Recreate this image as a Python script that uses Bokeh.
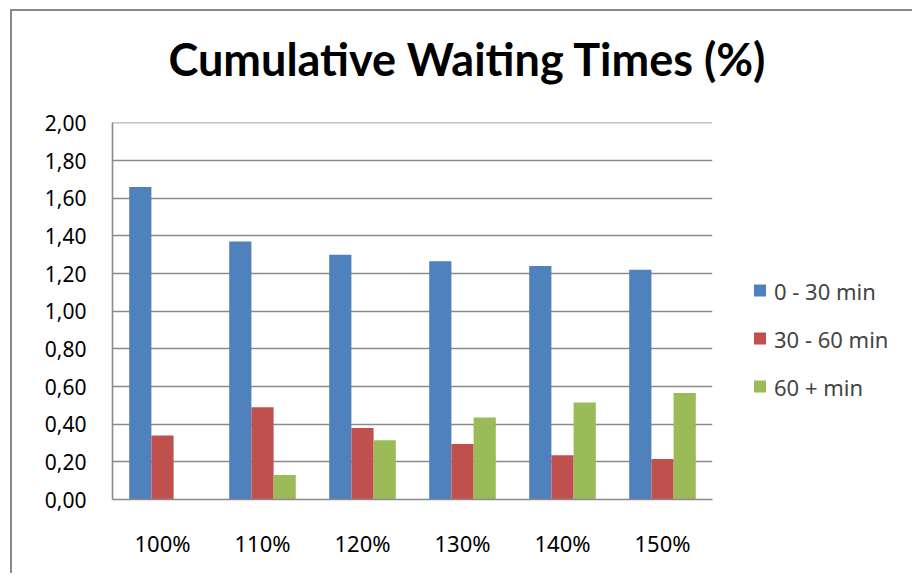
from bokeh.plotting import figure
from bokeh.layouts import column
from bokeh.models import (ColumnDataSource, FactorRange, Range1d, Legend, LegendItem,
                          SingleIntervalTicker, CustomJSTickFormatter)
from bokeh.transform import dodge
from bokeh.embed import file_html
from bokeh.resources import INLINE

# Load levels and the share of waits in each band
categories = ["100%", "110%", "120%", "130%", "140%", "150%"]
wait_0_30 = [1.66, 1.37, 1.30, 1.265, 1.24, 1.22]
wait_30_60 = [0.34, 0.49, 0.38, 0.295, 0.235, 0.215]
wait_60_plus = [0.0, 0.13, 0.315, 0.435, 0.515, 0.565]
series_names = ["0 - 30 min", "30 - 60 min", "60 + min"]
series_colors = ["#4F81BD", "#C0504D", "#9BBB59"]

source = ColumnDataSource(dict(cat=categories, a=wait_0_30, b=wait_30_60, c=wait_60_plus))

LABEL_FONT = "Noto Sans"

p = figure(
    x_range=FactorRange(*categories, range_padding=0),
    y_range=Range1d(0, 2.002),
    frame_width=600, frame_height=377,
    output_backend="svg", toolbar_location=None,
    min_border_left=100, min_border_right=198,
    min_border_top=111, min_border_bottom=74,
)
# the figure slides up under the chart-area frame drawn by the wrapper
p.styles = {"margin-top": "-18px"}
p.outline_line_color = None
p.background_fill_color = "white"
p.border_fill_color = None

# Chart title
p.title.text = "Cumulative Waiting Times (%)"
p.title.align = "left"
p.title.offset = 56
p.title.standoff = 73
p.title.text_font = "Lato"
p.title.text_font_style = "bold"
p.title.text_font_size = "45px"
p.title.text_color = "black"

bar_w = 0.222
renderers = []
for col, off, color in zip(["a", "b", "c"], [-bar_w, 0.0, bar_w], series_colors):
    r = p.vbar(x=dodge("cat", off, range=p.x_range), top=col, width=bar_w,
               source=source, fill_color=color, line_color=None)
    renderers.append(r)

# Axes
p.xgrid.grid_line_color = None
p.ygrid.grid_line_color = "#8a8a8a"
p.ygrid.grid_line_width = 1.6

p.yaxis.ticker = SingleIntervalTicker(interval=0.2, num_minor_ticks=0)
p.yaxis.formatter = CustomJSTickFormatter(code="return tick.toFixed(2).replace('.', ',');")
for ax in (p.xaxis, p.yaxis):
    ax.axis_line_color = "#8a8a8a"
    ax.axis_line_width = 1.6
    ax.major_tick_line_color = None
    ax.minor_tick_line_color = None
    ax.major_tick_out = 0
    ax.major_tick_in = 0
    ax.major_label_text_font = LABEL_FONT
    ax.major_label_text_color = "black"
p.yaxis.major_label_text_font_size = "21px"
p.yaxis.major_label_standoff = 26
p.xaxis.major_label_text_font_size = "22px"
p.xaxis.major_label_standoff = 28

# Legend to the right of the plot area; a blank title nudges the rows down
legend = Legend(
    items=[LegendItem(label=n, renderers=[r]) for n, r in zip(series_names, renderers)],
    location="center_left",
    title=" ", title_text_font_size="12px", title_standoff=41,
    glyph_width=15, glyph_height=15, label_height=20, spacing=18,
    label_standoff=7, padding=0, margin=40,
    border_line_color=None, background_fill_alpha=0,
    label_text_font=LABEL_FONT, label_text_font_size="22px",
)
p.add_layout(legend, "right")

# Chart-area frame: grey rule along the top and left edges
page = column(p, styles={"margin-left": "10px", "margin-top": "9px",
                         "border-left": "2px solid #8a8a8a",
                         "border-top": "2px solid #8a8a8a",
                         "background-color": "white"})

open("out.html", "w").write(file_html(page, INLINE))
